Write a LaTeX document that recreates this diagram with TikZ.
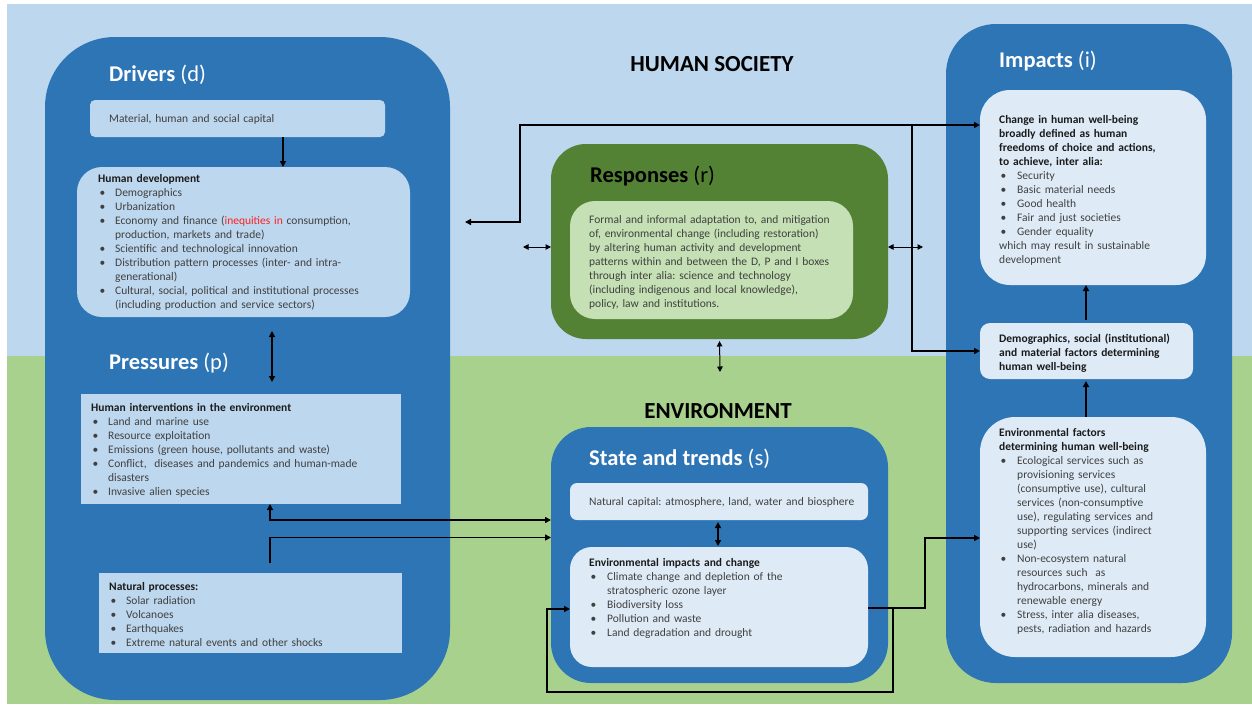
\documentclass[tikz,border=0pt]{standalone}
\usepackage{fontspec}
\setmainfont{Carlito}
\usetikzlibrary{arrows.meta,calc}
\frenchspacing
\definecolor{sky}{HTML}{BDD7EE}
\definecolor{grass}{HTML}{A9D18E}
\definecolor{dblue}{HTML}{2E75B6}
\definecolor{lblue}{HTML}{DEEBF7}
\definecolor{pblue}{HTML}{BDD7EE}
\definecolor{dgreen}{HTML}{548235}
\definecolor{lgreen}{HTML}{C5E0B4}
\definecolor{txt}{HTML}{404040}
\definecolor{hd}{HTML}{1A1A1A}
\definecolor{redt}{HTML}{FF2020}
\newcommand\nl{\hfil\break}
\newcommand\bitem[2][17pt]{\par\hangindent=#1\hangafter=1\noindent\makebox[#1][l]{\hspace{1.5pt}\textbullet}#2\par}
\newcommand\hdl[1]{{\color{hd}\bfseries #1}}
\tikzset{
  bx/.style={inner sep=0pt, outer sep=0pt, anchor=north west},
  tx/.style={inner sep=0pt, anchor=base west, text width=330pt, align=left, text=txt,
     font=\fontsize{11.5}{14.05}\selectfont\frenchspacing},
  ttl/.style={inner sep=0pt, anchor=base west, font=\fontsize{22.5}{26}\selectfont},
  big/.style={inner sep=0pt, anchor=base, font=\fontsize{23}{26}\selectfont\bfseries, text=black},
  ar/.style={draw=black, line width=1.5pt, -{Triangle[length=6pt,width=6pt]}},
  dbl/.style={draw=black, line width=1.5pt, {Triangle[length=6pt,width=6pt]}-{Triangle[length=6pt,width=6pt]}},
  dbl1/.style={draw=black, line width=1pt, {Triangle[length=5.5pt,width=5.5pt]}-{Triangle[length=5.5pt,width=5.5pt]}},
}
\begin{document}
\begin{tikzpicture}[x=1pt,y=-1pt]
\useasboundingbox (0,0) rectangle (1252,704);
\fill[white] (0,0) rectangle (1252,704);
\fill[sky] (7,4) rectangle (1252,356);
\fill[grass] (7,356) rectangle (1252,704);

% ---------- boxes ----------
\node[bx, fill=dblue, rounded corners=70pt, minimum width=405pt, minimum height=663pt] (drivers) at (45,37) {};
\node[bx, fill=pblue, rounded corners=5pt, minimum width=295pt, minimum height=37pt] (matcap) at (90,100) {};
\node[bx, fill=pblue, rounded corners=25pt, minimum width=333pt, minimum height=150pt] (humdev) at (77,167) {};
\node[bx, fill=pblue, minimum width=320pt, minimum height=110pt] (humint) at (81,394) {};
\node[bx, fill=pblue, minimum width=303pt, minimum height=80pt] (natproc) at (99,573) {};

\node[bx, fill=dgreen, rounded corners=35pt, minimum width=337pt, minimum height=195pt] (resp) at (551,144) {};
\node[bx, fill=lgreen, rounded corners=25pt, minimum width=283pt, minimum height=118pt] (respin) at (570,201) {};

\node[bx, fill=dblue, rounded corners=40pt, minimum width=337pt, minimum height=256pt] (state) at (551,427) {};
\node[bx, fill=lblue, rounded corners=7pt, minimum width=298pt, minimum height=37pt] (natcap) at (570,483) {};
\node[bx, fill=lblue, rounded corners=22pt, minimum width=298pt, minimum height=120pt] (envimp) at (570,547) {};

\node[bx, fill=dblue, rounded corners=50pt, minimum width=286pt, minimum height=659pt] (impacts) at (946,24) {};
\node[bx, fill=lblue, rounded corners=30pt, minimum width=226pt, minimum height=195pt] (change) at (980,90) {};
\node[bx, fill=lblue, rounded corners=10pt, minimum width=213pt, minimum height=56pt] (demo) at (980,323) {};
\node[bx, fill=lblue, rounded corners=35pt, minimum width=226pt, minimum height=240pt] (envfac) at (980,417) {};

% ---------- titles ----------
\node[big] (hs) at (712,71) {HUMAN SOCIETY};
\node[big] (env) at (718,418) {ENVIRONMENT};
\node[ttl, text=white] (tdrv) at (109,81) {\textbf{Drivers} (d)};
\node[ttl, text=white] (tprs) at (109,369) {\textbf{Pressures} (p)};
\node[ttl, text=black] (tres) at (590,182) {\textbf{Responses} (r)};
\node[ttl, text=white] (tsta) at (589,465) {\textbf{State and trends} (s)};
\node[ttl, text=white] (timp) at (999,67) {\textbf{Impacts} (i)};

% ---------- texts ----------
\node[tx] (tmat) at (109,122) {Material, human and social capital};
\node[tx] (thd) at (98,182) {\hdl{Human development}
\bitem{Demographics}
\bitem{Urbanization}
\bitem{Economy and finance ({\color{redt}inequities in} consumption,\nl production, markets and trade)}
\bitem{Scientific and technological innovation}
\bitem{Distribution pattern processes (inter- and intra-\nl generational)}
\bitem{Cultural, social, political and institutional processes\nl (including production and service sectors)}};
\node[tx] (thi) at (91,411) {\hdl{Human interventions in the environment}
\bitem{Land and marine use}
\bitem{Resource exploitation}
\bitem{Emissions (green house, pollutants and waste)}
\bitem{Conflict,\ \ diseases and pandemics and human-made\nl disasters}
\bitem{Invasive alien species}};
\node[tx] (tnp) at (109,590) {\hdl{Natural processes:}
\bitem{Solar radiation}
\bitem{Volcanoes}
\bitem{Earthquakes}
\bitem{Extreme natural events and other shocks}};
\node[tx] (trs) at (589,223) {Formal and informal adaptation to, and mitigation\\
of, environmental change (including restoration)\\
by altering human activity and development\\
patterns within and between the D, P and I boxes\\
through inter alia: science and technology\\
(including indigenous and local knowledge),\\
policy, law and institutions.};
\node[tx] (tnc) at (589,505) {Natural capital: atmosphere, land, water and biosphere};
\node[tx] (tei) at (589,566) {\hdl{Environmental impacts and change}
\bitem[18pt]{Climate change and depletion of the\nl stratospheric ozone layer}
\bitem[18pt]{Biodiversity loss}
\bitem[18pt]{Pollution and waste}
\bitem[18pt]{Land degradation and drought}};
\node[tx] (tch) at (999,123) {\hdl{Change in human well-being\\ broadly defined as human\\ freedoms of choice and actions,\\ to achieve, inter alia:}
\bitem[18pt]{Security}
\bitem[18pt]{Basic material needs}
\bitem[18pt]{Good health}
\bitem[18pt]{Fair and just societies}
\bitem[18pt]{Gender equality}
\noindent which may result in sustainable\\ development};
\node[tx] (tdm) at (999,342) {\hdl{Demographics, social (institutional)\\ and material factors determining\\ human well-being}};
\node[tx] (tef) at (999,436) {\hdl{Environmental factors\\ determining human well-being}
\bitem[18pt]{Ecological services such as\nl provisioning services\nl (consumptive use), cultural\nl services (non-consumptive\nl use), regulating services and\nl supporting services (indirect\nl use)}
\bitem[18pt]{Non-ecosystem natural\nl resources such\ \ as\nl hydrocarbons, minerals and\nl renewable energy}
\bitem[18pt]{Stress, inter alia diseases,\nl pests, radiation and hazards}};

% ---------- connectors ----------
\coordinate (xA) at (283,0);
\coordinate (xB) at (272,0);
\coordinate (xC) at (270,0);
\coordinate (y1) at (0,520);
\coordinate (y2) at (0,537.5);
\coordinate (yR) at (0,247);
\coordinate (xL) at (523,0);
\coordinate (xRr) at (923,0);
\coordinate (rlow) at (720,372);
\coordinate (dIn) at (465,222);
\coordinate (xK) at (520,0);
\coordinate (yT) at (0,125);
\coordinate (xJ) at (912,0);
\coordinate (yD) at (0,351);
\coordinate (xI) at (1086,0);
\coordinate (xS) at (718,0);
\coordinate (yE) at (0,608);
\coordinate (xE) at (925,0);
\coordinate (yF) at (0,538);
\coordinate (xL2) at (893,0);
\coordinate (yB) at (0,692);
\coordinate (xW) at (547,0);
\coordinate (yG) at (0,609);

\draw[ar] (matcap.south -| xA) -- (humdev.north -| xA);
\draw[dbl, shorten <=14pt, shorten >=12pt] (humdev.south -| xB) -- (humint.north -| xB);
\draw[dbl] (humint.south -| xC) |- (state.west |- y1);
\draw[ar, shorten <=10pt] (natproc.north -| xC) |- (state.west |- y2);
\draw[dbl1] (xL |- yR) -- (resp.west |- yR);
\draw[dbl1] (resp.east |- yR) -- (xRr |- yR);
\draw[dbl1, shorten <=2pt] (resp.south) -- (rlow);
\draw[dbl] (dIn) -- (dIn -| xK) -- (xK |- yT) -- (change.west |- yT);
\draw[ar] (xJ |- yT) -- (xJ |- yD) -- (demo.west |- yD);
\draw[ar, shorten <=3pt] (demo.north -| xI) -- (change.south -| xI);
\draw[ar, shorten >=2pt] (envfac.north -| xI) -- (demo.south -| xI);
\draw[dbl, shorten <=2pt, shorten >=1pt] (natcap.south -| xS) -- (envimp.north -| xS);
\draw[ar] (envimp.east |- yE) -| (xE |- yF) -- (envfac.west |- yF);
\draw[ar] (envimp.east |- yE) -| (xL2 |- yB) -| (xW |- yG) -- (envimp.west |- yG);
\end{tikzpicture}
\end{document}
